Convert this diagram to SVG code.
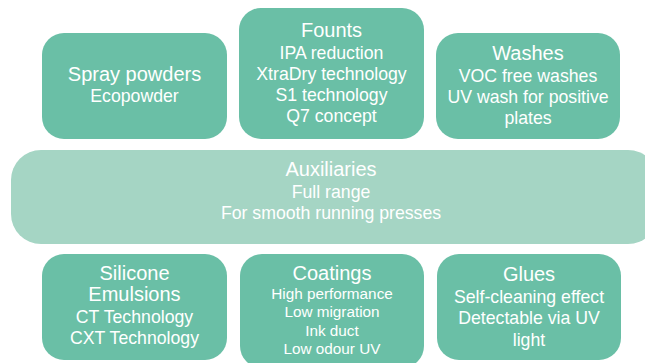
<svg xmlns="http://www.w3.org/2000/svg" width="645" height="363" viewBox="0 0 645 363">
<style>
.box{fill:#6ABFA6}
.aux{fill:#A5D5C4}
text{font-family:"Liberation Sans",Arial,sans-serif;fill:#FFFFFF;text-anchor:middle}
.t{font-size:20px}
.s{font-size:17.7px}
.xs{font-size:15.3px}
</style>
<g id="spray">
<rect class="box" x="42" y="33" width="185" height="106" rx="22"/>
<text class="t" x="134.5" y="81">Spray powders</text>
<text class="s" x="134.5" y="102">Ecopowder</text>
</g>
<g id="founts">
<rect class="box" x="239" y="8" width="185" height="131" rx="22"/>
<text class="t" x="331.5" y="37">Founts</text>
<text class="s" x="331.5" y="59">IPA reduction</text>
<text class="s" x="331.5" y="80">XtraDry technology</text>
<text class="s" x="331.5" y="101">S1 technology</text>
<text class="s" x="331.5" y="122">Q7 concept</text>
</g>
<g id="washes">
<rect class="box" x="436" y="33" width="184" height="106" rx="22"/>
<text class="t" x="528" y="60">Washes</text>
<text class="s" x="528" y="82">VOC free washes</text>
<text class="s" x="528" y="103">UV wash for positive</text>
<text class="s" x="528" y="124">plates</text>
</g>
<g id="auxiliaries">
<rect class="aux" x="11" y="150" width="647" height="94" rx="30"/>
<text class="t" x="331" y="176">Auxiliaries</text>
<text class="s" x="331" y="198">Full range</text>
<text class="s" x="331" y="219">For smooth running presses</text>
</g>
<g id="silicone">
<rect class="box" x="42" y="254" width="185" height="106" rx="22"/>
<text class="t" x="134.5" y="280">Silicone</text>
<text class="t" x="134.5" y="301">Emulsions</text>
<text class="s" x="134.5" y="323">CT Technology</text>
<text class="s" x="134.5" y="344">CXT Technology</text>
</g>
<g id="coatings">
<rect class="box" x="240" y="254" width="184" height="114" rx="22"/>
<text class="t" x="332" y="280">Coatings</text>
<text class="xs" x="332" y="299">High performance</text>
<text class="xs" x="332" y="317">Low migration</text>
<text class="xs" x="332" y="336">Ink duct</text>
<text class="xs" x="332" y="354">Low odour UV</text>
</g>
<g id="glues">
<rect class="box" x="437" y="254" width="184" height="106" rx="22"/>
<text class="t" x="529" y="281">Glues</text>
<text class="s" x="529" y="303">Self-cleaning effect</text>
<text class="s" x="529" y="324">Detectable via UV</text>
<text class="s" x="529" y="346">light</text>
</g>
<g id="connectors"></g>
</svg>
